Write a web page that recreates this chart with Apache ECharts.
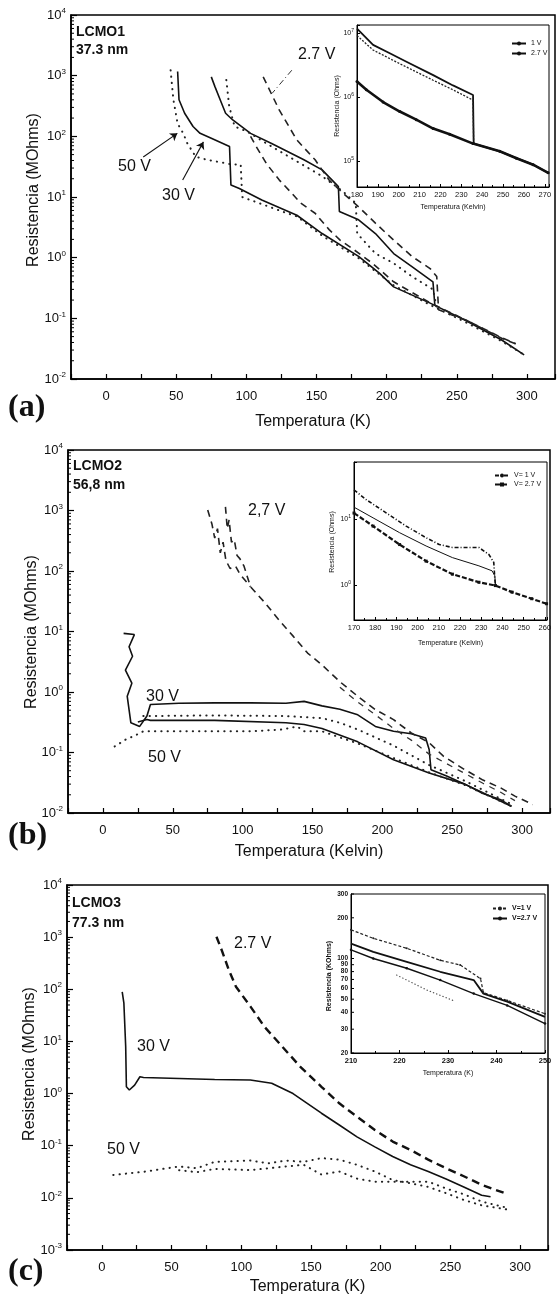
<!DOCTYPE html>
<html>
<head>
<meta charset="utf-8">
<script src="https://cdn.jsdelivr.net/npm/echarts@6/dist/echarts.min.js"></script>
<style>
html,body{margin:0;padding:0;background:#fff}
#chart{width:558px;height:1301px}
</style>
</head>
<body>
<div id="chart"></div>
<script>
// ---- panel (a) LCMO1, [T (K), R (MOhm)]
const a30Lo = [[51,1170],[52,400],[56,240],[62,145],[67,112],[75,93],[88,68],[89,15.8],[95,13.8],[111,8.9],[136,5.0],[154,2.5],[180,1.05],[195,0.55],[205,0.33],[231,0.178],[256,0.093],[282,0.044],[298,0.025]];
const a50Lo = [[46,1230],[48,400],[51,162],[55,112],[58,76],[64,46],[72,41],[88,35],[96,34],[97,10],[103,8.9],[129,5.4],[136,4.8],[154,2.3],[180,0.98],[205,0.35],[231,0.166],[256,0.087],[282,0.042],[297,0.026]];
const a30Hi = [[75,955],[77.6,660],[81.4,398],[85.2,240],[90.3,186],[103,112],[118,76],[141,41],[154,28],[165.6,14.8],[166.3,5.75],[180,4.2],[192,2.5],[205,1.17],[218,0.71],[233,0.40],[234.4,0.16]];
const a50Hi = [[85.7,850],[87.8,310],[91.6,145],[100.5,120],[118,68],[154,22],[169,12.3],[178,7.9],[179,2.5],[192,1.17],[205,0.81],[218,0.49],[233,0.30],[236,0.14]];
const a27Hi = [[112,955],[123.5,270],[136,87],[149,41],[159,19],[169,11.5],[180,6.9],[192,3.7],[205,1.95],[218,1.05],[231,0.66],[235.7,0.49],[237,0.138],[246,0.115],[256,0.095],[282,0.048],[292,0.038]];
const a27Lo = [[103,100],[107,68],[114.5,35],[123.5,19],[132.4,11.5],[138.8,7.9],[149,5.4],[159,2.9],[166.8,1.95],[175.8,1.4],[189.8,0.81],[205,0.40],[231,0.18],[256,0.095],[282,0.047],[292,0.038]];
// inset (a), R in Ohm
const iaUpA = [[180,1.17e7],[187.7,6.5e6],[195.7,4.8e6],[203.7,3.55e6],[216.5,2.19e6],[226,1.51e6],[235.6,1.07e6],[235.9,1.86e5],[248.4,1.41e5],[256.4,1.1e5],[264.4,8.7e4],[271.6,6.5e4]];
const iaUpB = [[180,9.1e6],[187.7,5.4e6],[200.5,3.3e6],[216.5,1.82e6],[226,1.29e6],[235.6,8.9e5],[235.9,1.86e5]];
const iaLo = [[180,1.74e6],[184.5,1.29e6],[192.5,8.3e5],[200.5,5.9e5],[208.4,4.4e5],[216.5,3.2e5],[224.4,2.6e5],[235.6,1.86e5],[248.4,1.41e5],[256.4,1.1e5],[264.4,8.7e4],[271.6,6.5e4]];

// ---- panel (b) LCMO2
const b30Hi = [[14.8,9.3],[22.5,8.9],[18.7,5.6],[21.2,3.9],[16.1,2.3],[20.7,1.4],[17.4,0.85],[18.7,0.51],[20,0.31],[26.3,0.27],[31.5,0.40],[34,0.62],[54.5,0.65],[80,0.66],[105.6,0.66],[131,0.65],[144,0.70],[156.8,0.59],[169.6,0.52],[182.4,0.42],[195,0.27],[208,0.224],[220.7,0.204],[231,0.174],[233.5,0.112],[234.8,0.052],[246,0.041],[259,0.030],[272,0.021],[284.7,0.0166],[292.3,0.0129]];
const b30Lo = [[25,0.32],[31.5,0.35],[34,0.34],[80,0.34],[131,0.31],[144,0.29],[156.8,0.25],[182.4,0.15],[208,0.076],[233.5,0.046],[259,0.030],[292.3,0.0129]];
const b50Hi = [[28.9,0.40],[80,0.41],[131,0.40],[156.8,0.37],[169.6,0.31],[182.4,0.24],[208,0.13],[233.5,0.062],[259,0.034],[292.3,0.014]];
const b50Lo = [[8.4,0.126],[16,0.162],[23.8,0.195],[28.9,0.224],[54.5,0.224],[105.6,0.224],[128.6,0.24],[139,0.27],[144,0.224],[156.8,0.224],[182.4,0.141],[208,0.081],[233.5,0.047],[259,0.029],[292.3,0.013]];
const b27A = [[75,1020],[78,600],[80,350],[82,500],[84,200],[86,300],[88,150],[91,110],[95,120],[98,89],[105.6,55]];
const b27B = [[87.7,1150],[89,500],[90.3,700],[92,300],[94,330],[96,180],[98,160],[101,120],[105.6,55],[115.9,30],[126,15.5],[136.3,8.3],[146.5,4.4],[156.8,2.8],[169.6,1.48],[182.4,0.85],[195,0.51],[208,0.35],[220.7,0.21],[233.5,0.145],[243.7,0.087],[259,0.052],[272,0.035],[284.7,0.026],[294.9,0.019],[307.7,0.0138]];
const b27C = [[169.6,1.2],[182.4,0.68],[195,0.42],[208,0.25],[220.7,0.16],[233.5,0.094],[243.7,0.07],[259,0.045],[272,0.031],[284.7,0.022],[294.9,0.016]];
// inset (b)
const ibTop = [[170,27.5],[175.9,19.5],[185.3,12.3],[194.6,7.8],[204,5.2],[210.2,4.1],[216.4,3.7],[222.6,3.7],[228.9,3.7],[233.6,2.9],[235.9,2.2],[236.4,1.23],[236.7,1.0]];
const ibMid = [[170,15.1],[179,10.4],[191.5,6.2],[204,3.9],[216.4,2.6],[228.9,1.95],[235.1,1.64],[236.4,1.38],[236.7,1.0]];
const ibLo = [[170,12.3],[179,7.8],[191.5,4.1],[204,2.3],[216.4,1.46],[228.9,1.1],[236.7,0.98],[244.5,0.78],[253.8,0.62],[260.8,0.52]];

// ---- panel (c) LCMO3
const c30 = [[14.6,89],[15.8,54],[17.1,7.9],[17.6,1.35],[19.7,1.17],[23.5,1.45],[27.3,2.1],[29.9,2.04],[55.4,1.95],[80.9,1.86],[106.5,1.82],[121.8,1.58],[137.1,1.0],[147.3,0.65],[157.5,0.42],[170.3,0.25],[183,0.148],[195.8,0.095],[208.6,0.062],[221.4,0.043],[234.1,0.032],[246.9,0.023],[259.6,0.0162],[272.4,0.0112],[278.8,0.0105]];
const c27 = [[82.2,1020],[86,560],[91.1,234],[96.2,112],[106.5,47],[116.7,19],[129.5,7.9],[142.2,3.3],[157.5,1.35],[170.3,0.65],[183,0.36],[195.8,0.20],[208.6,0.12],[221.4,0.083],[234.1,0.054],[246.9,0.037],[259.6,0.026],[272.4,0.0178],[289,0.0123]];
const c50Hi = [[8.2,0.0275],[29.9,0.0316],[55.4,0.040],[68.2,0.037],[80.9,0.049],[106.5,0.052],[119.3,0.046],[132,0.052],[144.8,0.049],[157.5,0.058],[170.3,0.054],[183,0.043],[195.8,0.032],[208.6,0.022],[221.4,0.019],[234.1,0.0162],[246.9,0.0123],[259.6,0.0091],[272.4,0.0072],[290.3,0.006]];
const c50Lo = [[55.4,0.034],[68.2,0.031],[80.9,0.036],[106.5,0.034],[132,0.040],[144.8,0.043],[157.5,0.028],[170.3,0.032],[183,0.0234],[195.8,0.0204],[208.6,0.0204],[234.1,0.0204],[246.9,0.0151],[259.6,0.0117],[272.4,0.0085],[290.3,0.0065]];
// inset (c), R in kOhm
const icTop = [[210,163],[214.6,141],[221.5,119],[228.4,97],[232.5,89.6],[236.7,71],[237.3,56],[242.2,49],[250,39]];
const icMid = [[210,129],[214.6,112],[221.5,94.6],[228.4,79.8],[235.3,69.3],[237.3,55],[242.2,48],[250,37]];
const icLo = [[210,116],[214.6,100],[221.5,84.7],[228.4,69.3],[235.3,55],[242.2,45],[250,33]];
const icFaint = [[219.4,75.5],[225.6,58.5],[231,49]];
const icTicks = [20,30,40,50,60,70,80,90,100,200,300];

const FONT = '"Liberation Sans", Arial, sans-serif';
const chart = echarts.init(document.getElementById('chart'), null, {renderer:'canvas'});

const SOLID = {color:'#111', width:1.6, type:'solid'};
const DOT = {color:'#222', width:2, type:[0.3,6], cap:'round'};
const DASH = {color:'#222', width:1.6, type:[7,5]};

function line(name, data, gi, style, more) {
  return Object.assign({
    type:'line', name:name, data:data, xAxisIndex:gi, yAxisIndex:gi,
    symbol:'none', showSymbol:false, lineStyle:style, itemStyle:{color:style.color},
    animation:false, silent:true, z:3
  }, more || {});
}

function sup(v) {
  const e = Math.log10(v), r = Math.round(e);
  if (Math.abs(e - r) > 1e-6) return '';
  return '{b|10}{s|' + r + '}';
}

function mainX(gi, name, gap) {
  return {
    gridIndex:gi, type:'value', min:-25, max:320, interval:25,
    name:name, nameLocation:'middle', nameGap:gap,
    nameTextStyle:{fontSize:16, fontFamily:FONT, color:'#111'},
    axisLine:{show:true, onZero:false, lineStyle:{color:'#000', width:1.5}},
    axisTick:{inside:true, length:5, lineStyle:{color:'#000', width:1.2}},
    axisLabel:{formatter:v => (v % 50 === 0 ? String(v) : ''), fontSize:13, fontFamily:FONT, color:'#111', margin:11},
    splitLine:{show:false}
  };
}
function mainY(gi, min, n) {
  return {
    gridIndex:gi, type:'log', logBase:10, min:min, max:10000, splitNumber:n,
    axisLine:{show:true, onZero:false, lineStyle:{color:'#000', width:1.5}},
    axisTick:{inside:true, length:6, lineStyle:{color:'#000', width:1.2}},
    axisLabel:{formatter:sup, margin:5, color:'#111',
      rich:{b:{fontSize:13, fontFamily:FONT, color:'#111', lineHeight:16},
            s:{fontSize:8, fontFamily:FONT, color:'#111', lineHeight:8, verticalAlign:'top'}}},
    splitLine:{show:false}
  };
}
function insX(gi, min, max, name, gap, bold) {
  return {
    gridIndex:gi, type:'value', min:min, max:max, interval:10,
    name:name, nameLocation:'middle', nameGap:gap,
    nameTextStyle:{fontSize:7, fontFamily:FONT, color:'#111'},
    axisLine:{show:true, onZero:false, lineStyle:{color:'#000', width:1}},
    axisTick:{inside:true, length:3, lineStyle:{color:'#000'}},
    minorTick:{show:true, splitNumber:2, length:2, lineStyle:{color:'#000'}},
    axisLabel:{formatter:v => (v % 10 === 0 ? String(v) : ''), fontSize:7.5, fontFamily:FONT,
      fontWeight:bold ? 'bold' : 'normal', color:'#111', margin:4},
    splitLine:{show:false}
  };
}
function insY(gi, min, max, showLbl) {
  return {
    gridIndex:gi, type:'log', logBase:10, min:min, max:max, splitNumber:3,
    axisLine:{show:true, onZero:false, lineStyle:{color:'#000', width:1}},
    axisTick:{show:showLbl, inside:true, length:3, lineStyle:{color:'#000'}},
    axisLabel:{show:showLbl, formatter:sup, margin:3, color:'#111',
      rich:{b:{fontSize:7, fontFamily:FONT, color:'#111', lineHeight:9},
            s:{fontSize:5, fontFamily:FONT, color:'#111', lineHeight:5, verticalAlign:'top'}}},
    splitLine:{show:false}
  };
}

const gridBase = {show:true, borderColor:'#000', containLabel:false, outerBoundsMode:'none'};
const option = {
  backgroundColor:'#fff',
  animation:false,
  grid:[
    Object.assign({left:71, top:15, width:484, height:364, borderWidth:1.5}, gridBase),
    Object.assign({left:68, top:450, width:482, height:363, borderWidth:1.5}, gridBase),
    Object.assign({left:67, top:885, width:481, height:365, borderWidth:1.5}, gridBase),
    Object.assign({left:357, top:25, width:192, height:162, borderWidth:1, backgroundColor:'#fff'}, gridBase),
    Object.assign({left:354, top:462, width:193, height:158, borderWidth:1, backgroundColor:'#fff'}, gridBase),
    Object.assign({left:351, top:894, width:194, height:159, borderWidth:1, backgroundColor:'#fff'}, gridBase)
  ],
  xAxis:[
    mainX(0, 'Temperatura (K)', 35),
    mainX(1, 'Temperatura (Kelvin)', 31),
    mainX(2, 'Temperatura (K)', 29),
    insX(3, 180, 272, 'Temperatura (Kelvin)', 17, false),
    insX(4, 170, 261, 'Temperature (Kelvin)', 20, false),
    insX(5, 210, 250, 'Temperatura (K)', 17, true)
  ],
  yAxis:[
    mainY(0, 0.01, 6),
    mainY(1, 0.01, 6),
    mainY(2, 0.001, 7),
    insY(3, 39000, 1.33e7, true),
    insY(4, 0.295, 73, true),
    insY(5, 20, 300, false)
  ],
  legend:[
    {data:['1 V','2.7 V'], left:506, top:35, orient:'vertical', itemWidth:14, itemHeight:5, itemGap:3,
     textStyle:{fontSize:7, fontFamily:FONT, color:'#111'}},
    {data:['V= 1 V','V= 2.7 V'], left:489, top:467, orient:'vertical', itemWidth:14, itemHeight:5, itemGap:2,
     textStyle:{fontSize:7, fontFamily:FONT, color:'#111'}},
    {data:['V=1 V','V=2.7 V'], left:487, top:900, orient:'vertical', itemWidth:14, itemHeight:5, itemGap:3,
     textStyle:{fontSize:7, fontFamily:FONT, color:'#111', fontWeight:'bold'}}
  ],
  series:[
    // (a)
    line('30 V', a30Lo, 0, SOLID, {markLine:{silent:true, animation:false, symbol:['none','arrow'], symbolSize:7,
      lineStyle:{color:'#111', width:1.1, type:'solid'}, label:{show:false},
      data:[[{coord:[26.5,45.7]},{coord:[50.8,112]}],[{coord:[54.6,19]},{coord:[69.4,81]}]]}}),
    line('30 V hi', a30Hi, 0, SOLID),
    line('50 V', a50Lo, 0, DOT),
    line('50 V hi', a50Hi, 0, DOT),
    line('2.7 V main', a27Hi, 0, DASH, {markLine:{silent:true, animation:false, symbol:['none','none'],
      lineStyle:{color:'#333', width:1, type:[6,3,1,3]}, label:{show:false},
      data:[[{coord:[132.4,1230]},{coord:[118.4,513]}]]}}),
    line('2.7 V lo', a27Lo, 0, DASH),
    // inset (a)
    line('1 V', iaUpA, 3, {color:'#111', width:1.8, type:'solid'}),
    line('1 V b', iaUpB, 3, {color:'#222', width:1.3, type:[2,1.5]}),
    line('2.7 V', iaLo, 3, {color:'#111', width:2.6, type:'solid'}, {symbol:'circle', symbolSize:3, showSymbol:true}),
    // (b)
    line('b30hi', b30Hi, 1, SOLID),
    line('b30lo', b30Lo, 1, SOLID),
    line('b50hi', b50Hi, 1, DOT),
    line('b50lo', b50Lo, 1, DOT),
    line('b27a', b27A, 1, DASH),
    line('b27b', b27B, 1, DASH),
    line('b27c', b27C, 1, {color:'#333', width:1.3, type:[6,6]}),
    // inset (b)
    line('V= 1 V', ibTop, 4, {color:'#111', width:1.6, type:[4,2,1,2]}),
    line('ib mid', ibMid, 4, {color:'#111', width:1, type:'solid'}),
    line('V= 2.7 V', ibLo, 4, {color:'#111', width:2.2, type:[5,2]}, {symbol:'rect', symbolSize:3, showSymbol:true}),
    // (c)
    line('c30', c30, 2, SOLID),
    line('c27', c27, 2, {color:'#111', width:2.4, type:[8,5]}),
    line('c50hi', c50Hi, 2, DOT),
    line('c50lo', c50Lo, 2, DOT),
    // inset (c)
    line('V=1 V', icTop, 5, {color:'#222', width:1.2, type:[3,2]}, {symbol:'circle', symbolSize:2, showSymbol:true}),
    line('ic mid', icMid, 5, {color:'#111', width:1.8, type:'solid'}),
    line('V=2.7 V', icLo, 5, {color:'#111', width:1.4, type:'solid'}, {symbol:'circle', symbolSize:2.5, showSymbol:true}),
    line('ic faint', icFaint, 5, {color:'#555', width:1.2, type:[0.4,3], cap:'round'})
  ]
};
chart.setOption(option);

// ---- annotations and log minor ticks
const g = [];
function txt(x, y, s, font, align, rot) {
  g.push({type:'text', x:x, y:y, rotation:rot || 0, silent:true, z:10,
    style:{text:s, font:font, fill:'#111', textAlign:align || 'left', align:align || 'left',
      textVerticalAlign:'middle', verticalAlign:'middle'}});
}
const B14 = 'bold 14px ' + FONT, N16 = '16px ' + FONT, LBL = 'bold 32px "Liberation Serif", "Times New Roman", serif';
txt(76, 32, 'LCMO1', B14); txt(76, 50, '37.3 nm', B14);
txt(298, 55, '2.7 V', N16); txt(118, 167, '50 V', N16); txt(162, 196, '30 V', N16);
txt(73, 466, 'LCMO2', B14); txt(73, 485, '56,8 nm', B14);
txt(248, 511, '2,7 V', N16); txt(146, 697, '30 V', N16); txt(148, 758, '50 V', N16);
txt(72, 903, 'LCMO3', B14); txt(72, 923, '77.3 nm', B14);
txt(234, 944, '2.7 V', N16); txt(137, 1047, '30 V', N16); txt(107, 1150, '50 V', N16);
txt(8, 408, '(a)', LBL); txt(8, 836, '(b)', LBL); txt(8, 1272, '(c)', LBL);
txt(34, 190, 'Resistencia (MOhms)', N16, 'center', Math.PI / 2);
txt(32, 632, 'Resistencia (MOhms)', N16, 'center', Math.PI / 2);
txt(30, 1064, 'Resistencia (MOhms)', N16, 'center', Math.PI / 2);
txt(337, 106, 'Resistencia (Ohms)', '7px ' + FONT, 'center', Math.PI / 2);
txt(332, 542, 'Resistencia (Ohms)', '7px ' + FONT, 'center', Math.PI / 2);
txt(329, 976, 'Resistencia (KOhms)', 'bold 7px ' + FONT, 'center', Math.PI / 2);

[[0, -2, 4], [1, -2, 4], [2, -3, 4]].forEach(function (p) {
  const gi = p[0];
  const x0 = chart.convertToPixel({xAxisIndex:gi}, -25);
  for (let d = p[1]; d < p[2]; d++) {
    for (let k = 2; k < 10; k++) {
      const y = chart.convertToPixel({yAxisIndex:gi}, k * Math.pow(10, d));
      g.push({type:'line', silent:true, z:10, shape:{x1:x0, y1:y, x2:x0 + 3, y2:y}, style:{stroke:'#000', lineWidth:1}});
    }
  }
});
const icx = chart.convertToPixel({xAxisIndex:5}, 210);
icTicks.forEach(function (v) {
  const y = chart.convertToPixel({yAxisIndex:5}, v);
  g.push({type:'line', silent:true, z:10, shape:{x1:icx, y1:y, x2:icx + 3, y2:y}, style:{stroke:'#000', lineWidth:1}});
  txt(icx - 3, y, String(v), 'bold 6.5px ' + FONT, 'right');
});
chart.setOption({graphic:g});
</script>
</body>
</html>
